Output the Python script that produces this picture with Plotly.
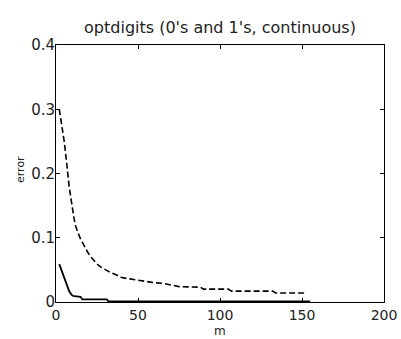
import plotly.graph_objects as go

# Error versus number of components m
m_dashed = [2, 3, 4, 5, 6, 7, 8, 9, 10, 11, 12, 13, 14, 15, 17, 19, 21, 23, 25, 27,
            30, 33, 37, 40, 45, 50, 55, 60, 65, 70, 75, 88, 90, 105, 107, 132, 134, 152]
err_dashed = [0.300, 0.285, 0.265, 0.250, 0.228, 0.200, 0.180, 0.163, 0.145, 0.130,
              0.118, 0.110, 0.104, 0.098, 0.088, 0.079, 0.071, 0.065, 0.059, 0.055,
              0.050, 0.046, 0.042, 0.038, 0.036, 0.034, 0.031, 0.030, 0.029, 0.027,
              0.024, 0.023, 0.020, 0.020, 0.017, 0.017, 0.014, 0.014]

m_solid = [2, 3, 4, 5, 6, 7, 8, 9, 10, 11, 15, 16, 31, 32, 155]
err_solid = [0.059, 0.052, 0.044, 0.036, 0.029, 0.023, 0.017, 0.013, 0.010, 0.009,
             0.008, 0.004, 0.004, 0.001, 0.001]

x_ticks = [0, 50, 100, 150, 200]
y_ticks = [0, 0.1, 0.2, 0.3, 0.4]
y_tick_text = ["0", "0.1", "0.2", "0.3", "0.4"]

FONT = "DejaVu Sans"
TEXT = "#222"

# plot box in pixels
L, R, T, B = 56, 17, 45, 37
W, H = 401, 339
PW, PH = W - L - R, H - T - B

fig = go.Figure()
fig.add_trace(go.Scatter(x=m_dashed, y=err_dashed, mode="lines",
                         line=dict(color="black", width=1.6, dash="6px,3px")))
fig.add_trace(go.Scatter(x=m_solid, y=err_solid, mode="lines",
                         line=dict(color="black", width=1.8)))

axis_common = dict(showgrid=False, zeroline=False, showline=True, linecolor="black",
                   linewidth=1, mirror="ticks", ticks="inside", ticklen=4,
                   tickcolor="black", tickwidth=1, automargin=False)

fig.update_layout(
    width=W, height=H,
    margin=dict(l=L, r=R, t=T, b=B),
    paper_bgcolor="white", plot_bgcolor="white",
    showlegend=False,
    title=dict(text="optdigits (0's and 1's, continuous)",
               font=dict(family=FONT, size=16, color=TEXT),
               x=(L + PW / 2) / W, xanchor="center",
               y=1 - 27 / H, yanchor="middle"),
    xaxis=dict(range=[0, 200], tickvals=x_ticks, ticklabelstandoff=0,
               tickfont=dict(family=FONT, size=14, color=TEXT), **axis_common),
    yaxis=dict(range=[0, 0.4], tickvals=y_ticks, ticktext=y_tick_text,
               ticklabelstandoff=-3,
               tickfont=dict(family=FONT, size=15, color=TEXT), **axis_common),
    annotations=[
        dict(text="m", xref="paper", yref="paper", x=0.5, y=-(H - (T + PH)) / PH,
             xanchor="center", yanchor="bottom", showarrow=False, borderpad=0,
             font=dict(family=FONT, size=12, color=TEXT)),
        dict(text="error", xref="paper", yref="paper", x=-(L - 20) / PW,
             y=(T + PH - 170) / PH, xanchor="center", yanchor="middle",
             textangle=-90, showarrow=False,
             font=dict(family=FONT, size=11, color=TEXT)),
    ],
)

fig.write_html("out.html")
